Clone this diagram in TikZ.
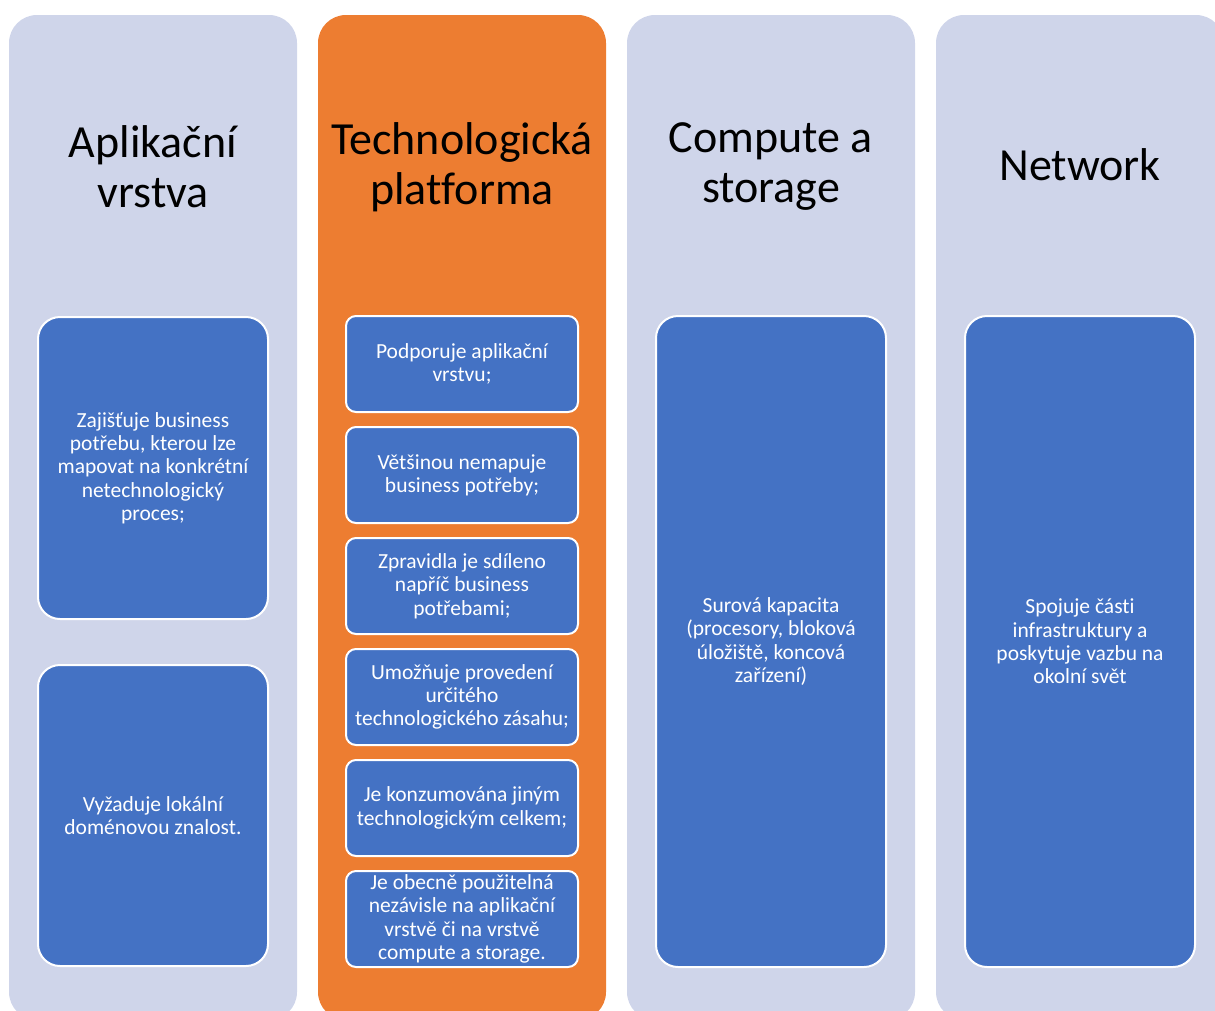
\documentclass[tikz,border=0pt]{standalone}
\usepackage{fontspec}
\setmainfont{Carlito}[Ligatures=NoCommon]
\definecolor{laneback}{HTML}{CFD5EA}
\definecolor{laneorange}{HTML}{ED7D31}
\definecolor{itemblue}{HTML}{4472C4}
\tikzset{
    lane/.style={rounded corners=28, minimum width=288, minimum height=1005, inner sep=0},
    lanetitle/.style={align=center, text=black, font=\fontsize{46}{50}\selectfont},
    bigitem/.style={draw=white, line width=2, fill=itemblue, rounded corners=22,
        minimum width=230, text=white, align=center, inner sep=2,
        font=\fontsize{21.5}{23.3}\selectfont},
    smallitem/.style={bigitem, rounded corners=10, minimum width=232, minimum height=96},
}
\begin{document}
\begin{tikzpicture}[x=1pt, y=-1pt]
    \useasboundingbox (0, 0) rectangle (1215, 1010);
    \clip (0, 0) rectangle (1215, 1010);

    % lanes
    \node [lane, fill=laneback]   (apl)  at ( 153, 517.5) {};
    \node [lane, fill=laneorange] (tech) at ( 462, 517.5) {};
    \node [lane, fill=laneback]   (comp) at ( 771, 517.5) {};
    \node [lane, fill=laneback]   (net)  at (1080, 517.5) {};

    \node [lanetitle] (aplT)  at ( 153, 167) {Aplikační\\vrstva};
    \node [lanetitle] (techT) at ( 462, 167) {Technologická\\platforma};
    \node [lanetitle] (compT) at ( 771, 167) {Compute a\\storage};
    \node [lanetitle] (netT)  at (1080, 165) {Network};

    % Aplikační vrstva
    \node [bigitem, minimum height=302] (apl1) at (153, 468)
        {Zajišťuje business\\potřebu, kterou lze\\mapovat na konkrétní\\netechnologický\\proces;};
    \node [bigitem, minimum height=301] (apl2) at (153, 815.5)
        {Vyžaduje lokální\\doménovou znalost.};

    % Technologická platforma
    \node [smallitem] (tech1) at (462, 364) {Podporuje aplikační\\vrstvu;};
    \node [smallitem] (tech2) at (462, 475) {Většinou nemapuje\\business potřeby;};
    \node [smallitem] (tech3) at (462, 586) {Zpravidla je sdíleno\\napříč business\\potřebami;};
    \node [smallitem] (tech4) at (462, 697) {Umožňuje provedení\\určitého\\technologického zásahu;};
    \node [smallitem] (tech5) at (462, 808) {Je konzumována jiným\\technologickým celkem;};
    \node [smallitem] (tech6) at (462, 919) {Je obecně použitelná\\nezávisle na aplikační\\vrstvě či na vrstvě\\compute a storage.};

    % Compute a storage, Network
    \node [bigitem, minimum height=651] (comp1) at (771, 641.5)
        {Surová kapacita\\(procesory, bloková\\úložiště, koncová\\zařízení)};
    \node [bigitem, minimum height=651] (net1) at (1080, 641.5)
        {Spojuje části\\infrastruktury a\\poskytuje vazbu na\\okolní svět};
\end{tikzpicture}
\end{document}
